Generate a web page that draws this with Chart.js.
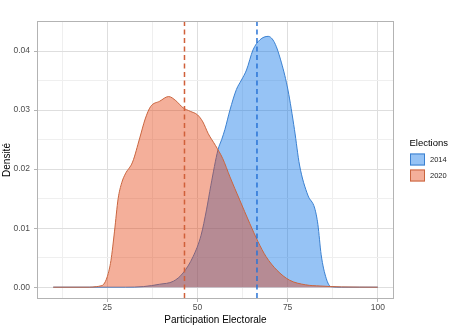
<!DOCTYPE html>
<html>
<head>
<meta charset="utf-8">
<script src="https://cdn.jsdelivr.net/npm/chart.js@4/dist/chart.umd.min.js"></script>
<style>
  body { margin: 0; background: #fff; }
  canvas { display: block; }
</style>
</head>
<body>
<canvas id="densityChart" width="460" height="329"></canvas>
<script>
// series names and their mean turnout (dashed lines)
const elections = ['2014', '2020'];
const meanTurnout = [66.5, 46.4];

// density curves
const x2014 = [10, 30, 35, 39.5, 43.3, 46, 48.8, 51, 52.5, 53.7, 55.7, 56.7, 57.6, 59, 60.8, 62.2, 63.6, 65.4, 67.3, 69.6, 71.4, 73.3, 75.1, 76.9, 78.3, 80.6, 82.5, 83.4, 84.3, 85.7, 87, 90, 100];
const y2014 = [0, 0, 0.0001, 0.0005, 0.001, 0.0024, 0.0052, 0.0088, 0.0131, 0.0172, 0.0233, 0.025, 0.0267, 0.030, 0.0335, 0.0351, 0.0368, 0.0402, 0.0419, 0.0425, 0.0414, 0.038, 0.0334, 0.0267, 0.0207, 0.0156, 0.0134, 0.0106, 0.0055, 0.0015, 0.0001, 0, 0];

const x2020 = [10, 20, 22, 23, 24, 25, 26, 27, 28, 29, 30, 32, 34, 35.5, 37, 39.5, 42, 44, 46, 48, 50, 51.5, 53, 55, 57, 59, 61.7, 64.5, 66.8, 69, 72, 75.5, 80, 84, 90, 100];
const y2020 = [0, 0, 0.0001, 0.0002, 0.0005, 0.0018, 0.0045, 0.0095, 0.015, 0.0177, 0.0192, 0.0212, 0.0253, 0.0285, 0.0306, 0.0315, 0.0323, 0.0316, 0.0304, 0.0298, 0.0292, 0.028, 0.026, 0.024, 0.0218, 0.0187, 0.0148, 0.0108, 0.0077, 0.0052, 0.0029, 0.0012, 0.0004, 0.0002, 0.00005, 0];

const xTicks = [12.5, 25, 37.5, 50, 62.5, 75, 87.5, 100];
const yTicks = [0, 0.005, 0.01, 0.015, 0.02, 0.025, 0.03, 0.035, 0.04];

const lineColors = ['#3a80d0', '#c9653f'];
const fillColors = ['rgba(5,112,231,0.42)', 'rgba(228,60,10,0.41)'];
const dashColors = ['#2a74d6', '#d0603a'];

Chart.defaults.font.family = "'Liberation Sans', Arial, sans-serif";

const toPoints = (xs, ys) => xs.map((x, i) => ({ x, y: ys[i] }));
const isMajorX = v => Math.abs(v % 25) < 1e-9;
const isMajorY = v => Math.abs(Math.round(v * 1000) % 10) === 0;

const panelAndExtras = {
  id: 'panelAndExtras',
  afterDatasetsDraw(chart) {
    const { ctx, chartArea: a, scales } = chart;
    ctx.save();
    ctx.beginPath();
    ctx.rect(a.left, a.top, a.right - a.left, a.bottom - a.top);
    ctx.clip();
    ctx.lineWidth = 1.5;
    ctx.setLineDash([5, 3.5]);
    meanTurnout.forEach((m, i) => {
      const px = scales.x.getPixelForValue(m);
      ctx.strokeStyle = dashColors[i];
      ctx.beginPath();
      ctx.moveTo(px, a.top);
      ctx.lineTo(px, a.bottom);
      ctx.stroke();
    });
    ctx.restore();

    ctx.save();
    ctx.strokeStyle = '#b3b3b3';
    ctx.lineWidth = 1;
    ctx.strokeRect(a.left + 0.5, a.top + 0.5, a.right - a.left - 1, a.bottom - a.top - 1);
    ctx.restore();
  },
  afterDraw(chart) {
    const { ctx } = chart;
    ctx.save();
    ctx.fillStyle = '#000';
    ctx.font = "9.5px 'Liberation Sans', Arial, sans-serif";
    ctx.textBaseline = 'middle';
    ctx.fillText('Elections', 409.5, 143.5);
    ctx.font = "7.5px 'Liberation Sans', Arial, sans-serif";
    elections.forEach((name, i) => {
      const top = 153.5 + i * 16;
      ctx.fillStyle = '#fff';
      ctx.fillRect(410, top, 15, 12);
      ctx.fillStyle = fillColors[i];
      ctx.fillRect(410, top, 15, 12);
      ctx.strokeStyle = lineColors[i];
      ctx.lineWidth = 1;
      ctx.strokeRect(410.5, top + 0.5, 14, 11);
      ctx.fillStyle = '#1a1a1a';
      ctx.fillText(name, 430, top + 6.5);
    });
    ctx.restore();
  }
};

new Chart(document.getElementById('densityChart'), {
  type: 'line',
  data: {
    datasets: [
      {
        label: elections[0],
        data: toPoints(x2014, y2014),
        borderColor: lineColors[0],
        backgroundColor: fillColors[0],
        fill: 'origin',
        order: 1
      },
      {
        label: elections[1],
        data: toPoints(x2020, y2020),
        borderColor: lineColors[1],
        backgroundColor: fillColors[1],
        fill: 'origin',
        order: 0
      }
    ]
  },
  options: {
    responsive: false,
    animation: false,
    layout: { padding: { top: 21, right: 66, left: 0, bottom: 0 } },
    elements: {
      point: { radius: 0 },
      line: { borderWidth: 1, cubicInterpolationMode: 'monotone' }
    },
    plugins: {
      legend: { display: false },
      tooltip: { enabled: false }
    },
    scales: {
      x: {
        type: 'linear',
        min: 5.5,
        max: 104.5,
        afterBuildTicks: s => { s.ticks = xTicks.map(v => ({ value: v })); },
        afterFit: s => { s.height = 30; },
        border: { display: false },
        grid: {
          color: c => isMajorX(c.tick.value) ? '#dedede' : '#efefef',
          tickColor: c => isMajorX(c.tick.value) ? '#b3b3b3' : 'rgba(0,0,0,0)',
          tickLength: 3
        },
        ticks: {
          autoSkip: false,
          maxRotation: 0,
          padding: 1,
          color: '#4d4d4d',
          font: { size: 8.5 },
          callback: v => isMajorX(v) ? String(v) : ''
        },
        title: {
          display: true,
          text: 'Participation Electorale',
          color: '#000',
          font: { size: 10 },
          padding: { top: 0, bottom: 3 }
        }
      },
      y: {
        min: -0.002,
        max: 0.0451,
        afterBuildTicks: s => { s.ticks = yTicks.map(v => ({ value: v })); },
        afterFit: s => { s.width = 37; },
        border: { display: false },
        grid: {
          color: c => isMajorY(c.tick.value) ? '#dedede' : '#efefef',
          tickColor: c => isMajorY(c.tick.value) ? '#b3b3b3' : 'rgba(0,0,0,0)',
          tickLength: 3
        },
        ticks: {
          autoSkip: false,
          padding: 4,
          color: '#4d4d4d',
          font: { size: 8.5 },
          callback: v => isMajorY(v) ? v.toFixed(2) : ''
        },
        title: {
          display: true,
          text: 'Densité',
          color: '#000',
          font: { size: 10 },
          padding: { top: 1, bottom: 0 }
        }
      }
    }
  },
  plugins: [panelAndExtras]
});
</script>
</body>
</html>
